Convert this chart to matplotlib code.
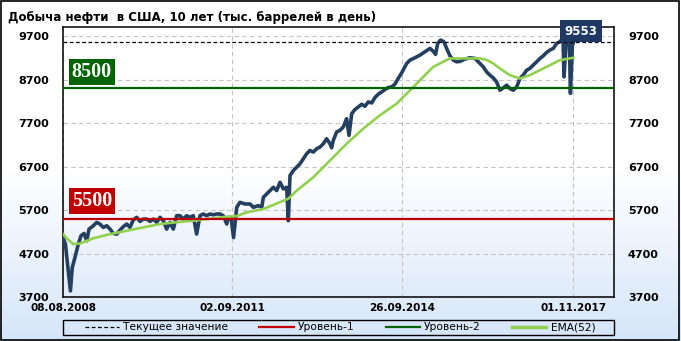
import numpy as np
import pandas as pd
import matplotlib
matplotlib.use("Agg")
import matplotlib.pyplot as plt
import matplotlib.dates as mdates
from matplotlib.colors import LinearSegmentedColormap
from matplotlib.lines import Line2D
import matplotlib.transforms as mtransforms

# weekly US crude output, thousand barrels per day
price_dates = [
    "2008-08-08", "2008-08-24", "2008-09-26", "2008-10-08", "2008-10-26", "2008-11-17",
    "2008-12-05", "2008-12-25", "2009-01-12", "2009-01-27", "2009-02-24", "2009-03-19",
    "2009-04-09", "2009-05-01", "2009-05-24", "2009-06-15", "2009-07-06", "2009-07-29",
    "2009-08-20", "2009-09-10", "2009-10-03", "2009-10-25", "2009-11-15", "2009-12-08",
    "2009-12-30", "2010-01-20", "2010-02-12", "2010-03-06", "2010-03-28", "2010-04-19",
    "2010-05-11", "2010-06-02", "2010-06-24", "2010-07-16", "2010-08-07", "2010-08-29",
    "2010-09-20", "2010-10-12", "2010-11-03", "2010-11-25", "2010-12-17", "2011-01-08",
    "2011-01-30", "2011-02-21", "2011-03-15", "2011-04-06", "2011-04-28", "2011-05-20",
    "2011-06-11", "2011-07-03", "2011-07-26", "2011-08-05", "2011-08-23", "2011-09-09",
    "2011-09-30", "2011-10-21", "2011-11-24", "2011-12-27", "2012-01-18", "2012-02-19",
    "2012-03-13", "2012-03-24", "2012-04-15", "2012-05-07", "2012-05-29", "2012-06-20",
    "2012-07-12", "2012-08-03", "2012-08-25", "2012-09-05", "2012-09-16", "2012-10-08",
    "2012-10-30", "2012-11-21", "2012-12-13", "2013-01-04", "2013-01-26", "2013-02-17",
    "2013-03-11", "2013-04-02", "2013-04-24", "2013-05-16", "2013-06-07", "2013-06-18",
    "2013-06-29", "2013-07-21", "2013-08-12", "2013-09-03", "2013-09-25", "2013-10-11",
    "2013-10-29", "2013-11-19", "2013-12-11", "2014-01-03", "2014-01-24", "2014-02-15",
    "2014-03-10", "2014-03-31", "2014-04-22", "2014-05-15", "2014-06-05", "2014-06-27",
    "2014-07-20", "2014-08-10", "2014-09-01", "2014-09-24", "2014-10-27", "2014-11-18",
    "2014-12-21", "2015-01-23", "2015-02-25", "2015-03-30", "2015-04-21", "2015-05-06",
    "2015-05-20", "2015-06-08", "2015-06-30", "2015-07-18", "2015-08-09", "2015-08-31",
    "2015-09-22", "2015-10-14", "2015-11-16", "2015-12-19", "2016-01-21", "2016-02-23",
    "2016-03-16", "2016-04-07", "2016-04-29", "2016-05-21", "2016-06-12", "2016-07-04",
    "2016-07-26", "2016-08-18", "2016-09-08", "2016-09-30", "2016-10-23", "2016-11-13",
    "2016-12-05", "2016-12-28", "2017-01-18", "2017-02-09", "2017-03-04", "2017-03-26",
    "2017-04-17", "2017-05-09", "2017-05-31", "2017-06-22", "2017-07-14", "2017-08-05",
    "2017-08-18", "2017-08-25", "2017-09-01", "2017-09-15", "2017-09-29", "2017-10-06",
    "2017-10-13", "2017-10-27", "2017-11-03",
]
price_values = [
    5070, 4915, 3840, 4376, 4607, 4915,
    5107, 5161, 4992, 5261, 5338, 5415,
    5377, 5300, 5338, 5261, 5161, 5146,
    5238, 5315, 5377, 5300, 5469, 5531,
    5438, 5492, 5492, 5438, 5492, 5415,
    5531, 5454, 5261, 5415, 5261, 5569,
    5569, 5492, 5569, 5531, 5569, 5146,
    5569, 5608, 5569, 5608, 5590, 5608,
    5608, 5569, 5377, 5531, 5531, 5068,
    5761, 5876, 5838, 5838, 5761, 5800,
    5761, 5992, 6069, 6146, 6222, 6146,
    6337, 6184, 6222, 5454, 6492, 6607,
    6684, 6762, 6877, 6992, 7069, 7031,
    7108, 7146, 7223, 7338, 7223, 7131,
    7300, 7492, 7531, 7608, 7800, 7415,
    7915, 8008, 8069, 8131, 8084, 8184,
    8161, 8284, 8361, 8415, 8469, 8515,
    8531, 8592, 8723, 8853, 9069, 9146,
    9200, 9261, 9338, 9415, 9346, 9277,
    9531, 9608, 9569, 9415, 9246, 9146,
    9107, 9115, 9169, 9200, 9185, 9069,
    8992, 8876, 8800, 8738, 8646, 8454,
    8507, 8569, 8492, 8454, 8530, 8723,
    8800, 8915, 8954, 9031, 9107, 9185,
    9246, 9323, 9377, 9415, 9531, 9569,
    9620, 9600, 8760, 9600, 9640, 9600,
    8380, 9560, 9553,
]

ema_dates = [
    "2008-08-08", "2008-09-01", "2008-10-15", "2008-11-28", "2009-01-12", "2009-02-24",
    "2009-06-15", "2009-10-03", "2010-01-20", "2010-05-11", "2010-08-29", "2010-12-17",
    "2011-04-06", "2011-07-26", "2011-09-30", "2011-12-04", "2012-03-24", "2012-07-12",
    "2012-09-05", "2012-10-30", "2013-02-17", "2013-06-07", "2013-09-25", "2014-01-13",
    "2014-05-03", "2014-08-22", "2014-11-18", "2015-01-23", "2015-04-21", "2015-08-09",
    "2015-11-16", "2016-02-23", "2016-04-07", "2016-05-21", "2016-07-04", "2016-09-08",
    "2016-11-13", "2017-01-18", "2017-03-26", "2017-05-31", "2017-08-05", "2017-11-03",
]
ema_values = [
    5146, 5050, 4915, 4930, 4990, 5050,
    5146, 5223, 5300, 5377, 5420, 5454,
    5500, 5546, 5560, 5646, 5723, 5880,
    5960, 6146, 6453, 6838, 7223, 7569,
    7877, 8146, 8450, 8684, 8992, 9185,
    9185, 9185, 9150, 9069, 8954, 8800,
    8723, 8800, 8915, 9031, 9146, 9200,
]

current_value = 9553
level_1 = 5500
level_2 = 8500
y_ticks = [3700, 4700, 5700, 6700, 7700, 8700, 9700]
x_ticks = ["2008-08-08", "2011-09-02", "2014-09-26", "2017-11-01"]

title = "Добыча нефти  в США, 10 лет (тыс. баррелей в день)"

navy = "#243f60"
ema_green = "#92d050"
red = "#c00000"
dark_green = "#006400"

fig = plt.figure(figsize=(6.81, 3.41), dpi=100)

# gradient background for the whole picture
bg = fig.add_axes([0, 0, 1, 1], zorder=-10)
grad = np.linspace(0, 1, 256).reshape(-1, 1)
cmap = LinearSegmentedColormap.from_list("bg", ["#ffffff", "#ffffff", "#d5e5f8"])
bg.imshow(grad, aspect="auto", cmap=cmap, extent=[0, 1, 0, 1], origin="upper")
bg.set_xlim(0, 1)
bg.set_ylim(0, 1)
bg.axis("off")
fig.patches.append(plt.Rectangle((0.002, 0.004), 0.995, 0.992, transform=fig.transFigure,
                                 fill=False, edgecolor="black", linewidth=1.2))
# legend frame
fig.patches.append(plt.Rectangle((63 / 681, 6 / 341), 551 / 681, 15 / 341,
                                 transform=fig.transFigure, fill=False,
                                 edgecolor="black", linewidth=1.0))

ax = fig.add_axes([63 / 681, 44 / 341, 551 / 681, 270 / 341])
ax.set_facecolor("none")

px = pd.to_datetime(price_dates)
ex = pd.to_datetime(ema_dates)

ax.plot(px, price_values, color=navy, lw=2.6, solid_joinstyle="round", zorder=3)
ax.plot(ex, ema_values, color=ema_green, lw=1.9, zorder=4)
ax.axhline(level_1, color=red, lw=1.6, zorder=5)
ax.axhline(level_2, color=dark_green, lw=1.6, zorder=5)
ax.axhline(current_value, color="black", lw=0.9, ls=(0, (3, 2)), zorder=5)

ax.set_ylim(3700, 9907)
ax.set_xlim(pd.Timestamp("2008-08-08"), pd.Timestamp("2018-07-28"))
ax.set_yticks(y_ticks)
ax.set_xticks(pd.to_datetime(x_ticks))
ax.xaxis.set_major_formatter(mdates.DateFormatter("%d.%m.%Y"))
ax.grid(True, color="#c4c4c4", lw=0.8, ls=(0, (4, 3)), zorder=0)
ax.tick_params(axis="y", length=0, pad=10, labelsize=8, labelright=True)
ax.tick_params(axis="x", length=0, pad=4, labelsize=7.5)
for lbl in ax.get_xticklabels() + ax.get_yticklabels():
    lbl.set_fontweight("bold")
for t in ax.yaxis.get_major_ticks():
    t.label2.set_fontweight("bold")
for s in ax.spines.values():
    s.set_linewidth(1.1)

trans = mtransforms.blended_transform_factory(ax.transAxes, ax.transData)
ax.text(0.016, level_2 + 150, str(level_2), transform=trans, color="white",
        fontsize=14.5, fontweight="bold", family="Liberation Serif", va="bottom", ha="left",
        bbox=dict(boxstyle="square,pad=0.15", fc=dark_green, ec="none"), zorder=6)
ax.text(0.016, level_1 + 180, str(level_1), transform=trans, color="white",
        fontsize=14.5, fontweight="bold", family="Liberation Serif", va="bottom", ha="left",
        bbox=dict(boxstyle="square,pad=0.15", fc=red, ec="none"), zorder=6)
ax.text(0.94, current_value + 110, str(current_value), transform=trans, color="white",
        fontsize=8.5, fontweight="bold", va="bottom", ha="center", clip_on=False,
        bbox=dict(boxstyle="square,pad=0.35", fc="#1f3864", ec="none"), zorder=7)

fig.text(8 / 681, 1 - 17 / 341, title, fontsize=8.5, fontweight="bold", va="center", ha="left")

handles = [
    Line2D([], [], color="black", lw=0.9, ls=(0, (3, 2))),
    Line2D([], [], color=red, lw=1.6),
    Line2D([], [], color=dark_green, lw=1.6),
    Line2D([], [], color=ema_green, lw=2.5),
]
labels = ["Текущее значение", "Уровень-1", "Уровень-2", "EMA(52)"]
fig.legend(handles, labels, loc="center", ncol=4,
           bbox_to_anchor=(340 / 681, 13.5 / 341),
           fontsize=7.7, frameon=False, handlelength=3.2, handletextpad=0.4,
           borderpad=0, borderaxespad=0, columnspacing=2.9)

fig.savefig("out.png", dpi=100)
